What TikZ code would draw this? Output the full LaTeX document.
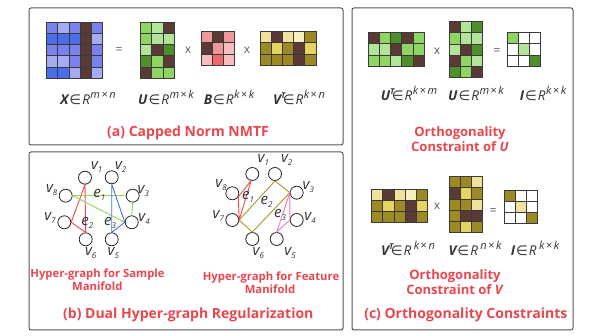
\documentclass[tikz,border=0pt]{standalone}
\usepackage{fontspec}
\setmainfont{Open Sans}
\newfontfamily\symf{DejaVu Sans}
\definecolor{br}{HTML}{5B3A36}
\definecolor{gridc}{HTML}{3A3A3A}
\definecolor{Ba}{HTML}{4A6EEA}
\definecolor{Bb}{HTML}{7A82EF}
\definecolor{Bc}{HTML}{A6ACF3}
\definecolor{Ga}{HTML}{4E8F2C}
\definecolor{Gb}{HTML}{8ED661}
\definecolor{Gc}{HTML}{B2E59A}
\definecolor{Pa}{HTML}{EC6A6E}
\definecolor{Pb}{HTML}{F0979A}
\definecolor{Pc}{HTML}{F6BCBE}
\definecolor{Ya}{HTML}{9E8A24}
\definecolor{Yb}{HTML}{E6D460}
\definecolor{Yc}{HTML}{F0E29A}
\definecolor{Yd}{HTML}{F6EFBE}
\definecolor{titred}{HTML}{E8474F}
\definecolor{panel}{HTML}{555555}
\definecolor{txt}{HTML}{333333}
\definecolor{eR}{HTML}{F0464A}
\definecolor{eG}{HTML}{8ED65A}
\definecolor{eB}{HTML}{4A6EEA}
\definecolor{eO}{HTML}{A89530}
\definecolor{eP}{HTML}{F07AC0}
\newcommand{\drawmat}[4]{%
  \foreach \cc [count=\i from 0] in {#4}{%
    \pgfmathtruncatemacro\rr{floor(\i/#3)}%
    \pgfmathtruncatemacro\qq{\i-\rr*#3}%
    \filldraw[fill=\cc, draw=gridc, line width=0.9] ({#1+\qq*11.2},{#2+\rr*11.2}) rectangle ++(11.2,11.2);
  }}
\newcommand{\inn}{\kern1pt{\symf\char"2208}\kern1pt}
\newcommand{\sups}[2]{\kern0.5pt\raisebox{6pt}{\fontsize{11}{11}\selectfont\itshape #1\kern1.5pt{\upshape×}\kern1.5pt#2}}
\newcommand{\mlab}[4]{{\bfseries\itshape #1}#2\inn{\itshape R}\sups{#3}{#4}}
\newcommand{\tsup}{\raisebox{6pt}{\fontsize{8}{8}\selectfont\bfseries\itshape T}\kern-3.5pt}
\newcommand{\vsub}[1]{\raisebox{-3pt}{\fontsize{8}{8}\selectfont #1}}
\begin{document}
\begin{tikzpicture}[x=1pt,y=-1pt,
  panelbox/.style={draw=panel, line width=1, rounded corners=2},
  vert/.style={circle, draw=black!85, line width=0.8, minimum size=13, inner sep=0},
  vlab/.style={font=\fontsize{15}{15}\selectfont\itshape, text=txt, inner sep=0},
  elab/.style={font=\fontsize{15}{15}\selectfont\itshape, text=txt, inner sep=0},
  op/.style={font=\fontsize{12}{12}\selectfont, text=txt!80, inner sep=0},
  mathlab/.style={font=\fontsize{13.5}{13.5}\selectfont, text=txt, inner sep=0, anchor=base},
  bigtitle/.style={font=\fontsize{14}{14}\selectfont\bfseries, text=titred, inner sep=0, anchor=base},
  midtitle/.style={font=\fontsize{13}{13}\selectfont\bfseries, text=titred, inner sep=0, anchor=base},
  smalltitle/.style={font=\fontsize{11.3}{11.3}\selectfont\bfseries, text=titred, inner sep=0, anchor=base},
  edge/.style={line width=0.9}]
\useasboundingbox (0,0) rectangle (606,336);
\fill[white] (0,0) rectangle (606,336);
% panels
\draw[panelbox] (29,8) rectangle (343,145);
\draw[panelbox] (29,152) rectangle (343,330);
\draw[panelbox] (352,8) rectangle (573,330);
% ---------- (a)
\drawmat{46.7}{22.3}{5}{Bb,Bc,Bb,br,Bb, Ba,Ba,Ba,br,Bc, Bb,Bb,Bb,br,Bb, Bc,Bc,Bb,br,Bb, Ba,Ba,Bc,br,Bc}
\drawmat{140.7}{22.3}{3}{Gb,Gc,br, Gb,Gc,Gc, Gc,br,Ga, Ga,Gb,br, br,Gb,Gb}
\drawmat{201}{31.7}{3}{Pb,br,Pb, br,Pb,Pc, Pc,Pa,Pc}
\drawmat{260}{31.7}{5}{Yc,br,Yc,Yd,Ya, Ya,Yb,Ya,br,Yb, Ya,Ya,Ya,br,Ya}
\node[op] (eqa) at (119,51) {=};
\node[op] (xa1) at (188,50) {x};
\node[op] (xa2) at (247,50) {x};
\node[mathlab] (lx) at (88,105) {\mlab{X}{}{m}{n}};
\node[mathlab] (lu) at (166,105) {\mlab{U}{}{m}{k}};
\node[mathlab] (lb) at (229,105) {\mlab{B}{}{k}{k}};
\node[mathlab] (lv) at (299,105) {\mlab{V}{\tsup}{k}{n}};
\node[bigtitle] (ta) at (188,136.7) {(a) Capped Norm NMTF};
% ---------- (b) left hypergraph
\node[vert] (a1) at (85,177.7) {};
\node[vert] (a2) at (111.7,177.3) {};
\node[vert] (a3) at (132.7,195.7) {};
\node[vert] (a4) at (131.7,222.3) {};
\node[vert] (a5) at (111.7,239.3) {};
\node[vert] (a6) at (85.7,239.3) {};
\node[vert] (a7) at (64.3,222.3) {};
\node[vert] (a8) at (65.7,195.7) {};
\node[vlab] (la1) at (96.7,166.7) {v\vsub{1}};
\node[vlab] (la2) at (120.7,166.7) {v\vsub{2}};
\node[vlab] (la3) at (143.3,191) {v\vsub{3}};
\node[vlab] (la4) at (144,219) {v\vsub{4}};
\node[vlab] (la5) at (113.3,253.3) {v\vsub{5}};
\node[vlab] (la6) at (90.7,253.3) {v\vsub{6}};
\node[vlab] (la7) at (50,217.7) {v\vsub{7}};
\node[vlab] (la8) at (51.7,190) {v\vsub{8}};
\draw[edge, eR] (a1.south) -- (a7.east) -- (a6.north) -- cycle;
\draw[edge, eG] (a8.east) -- (a3.west);
\draw[edge, eG] (a3.south) -- (a4.north);
\draw[edge, eG] (a8.east) -- (a4.west);
\draw[edge, eB] (a2.south) -- (a4.west) -- (a5.north) -- cycle;
\node[elab] (ea1) at (99.3,195) {e\vsub{1}};
\node[elab] (ea2) at (87.3,223.3) {e\vsub{2}};
\node[elab] (ea3) at (110,223.3) {e\vsub{3}};
% ---------- (b) right hypergraph
\node[vert] (b1) at (252.3,174) {};
\node[vert] (b2) at (275,174) {};
\node[vert] (b3) at (296.7,192.7) {};
\node[vert] (b4) at (296.7,220) {};
\node[vert] (b5) at (276.7,239) {};
\node[vert] (b6) at (252.3,239) {};
\node[vert] (b7) at (232.3,220) {};
\node[vert] (b8) at (232.3,193.3) {};
\node[vlab] (lb1) at (263.3,160) {v\vsub{1}};
\node[vlab] (lb2) at (286.7,160) {v\vsub{2}};
\node[vlab] (lb3) at (308.3,186.7) {v\vsub{3}};
\node[vlab] (lb4) at (310,218.3) {v\vsub{4}};
\node[vlab] (lb5) at (290,253.3) {v\vsub{5}};
\node[vlab] (lb6) at (258.3,253.3) {v\vsub{6}};
\node[vlab] (lb7) at (218.3,215.7) {v\vsub{7}};
\node[vlab] (lb8) at (221,185) {v\vsub{8}};
\draw[edge, eR] (b7.east) -- (b8.-30) -- (b1.-100) -- cycle;
\draw[edge, eO] (b7.east) -- (b2.south) -- (b3.west) -- (b6.north) -- cycle;
\draw[edge, eP] (b3.west) -- (b4.west) -- (b5.north) -- cycle;
\node[elab] (eb1) at (248,197) {e\vsub{1}};
\node[elab] (eb2) at (266.5,202) {e\vsub{2}};
\node[elab] (eb3) at (280,215) {e\vsub{3}};
\node[smalltitle] (s1) at (97.5,277.7) {Hyper-graph for Sample};
\node[smalltitle] (s2) at (97.3,290.7) {Manifold};
\node[smalltitle] (s3) at (271,281) {Hyper-graph for Feature};
\node[smalltitle] (s4) at (270,293.3) {Manifold};
\node[bigtitle] (tb) at (188.3,318.3) {(b) Dual Hyper-graph Regularization};
% ---------- (c) top
\drawmat{368.3}{32.7}{5}{br,Gb,Ga,br,Gb, Gc,Gc,br,Gb,Gb, Gb,Gb,Gc,Ga,br}
\drawmat{449}{21.7}{3}{br,Gc,Ga, Gb,Gc,Gc, Gc,br,Ga, br,Gb,Gc, Ga,Gb,br}
\drawmat{507.3}{32.7}{3}{Gb,white,white, white,Gc,white, white,white,Ga}
\node[op] (xc1) at (437,51.7) {x};
\node[op] (eqc1) at (497,51.7) {=};
\node[mathlab] (lut) at (409,100.7) {\mlab{U}{\tsup}{k}{m}};
\node[mathlab] (luu) at (476,100.7) {\mlab{U}{}{m}{k}};
\node[mathlab] (lii) at (543,100.7) {\mlab{I}{}{k}{k}};
\node[midtitle] (o1) at (460,136.7) {Orthogonality};
\node[midtitle] (o2) at (460,151.7) {Constraint of \textit{U}};
% ---------- (c) bottom
\drawmat{371.7}{189.3}{5}{Yc,br,Yc,Yd,Ya, Ya,Yb,Ya,br,Yb, Ya,Ya,Ya,br,Ya}
\drawmat{449.3}{176.7}{3}{Ya,Ya,Yc, br,Yb,Ya, Ya,Ya,Yc, Ya,br,br, Ya,Yb,Ya}
\drawmat{504}{190}{3}{Ya,white,white, white,Yc,white, white,white,Ya}
\node[op] (xc2) at (437,206.7) {x};
\node[op] (eqc2) at (493,211.7) {=};
\node[mathlab] (lvt) at (408,256) {\mlab{V}{\tsup}{\kern2pt k}{n}};
\node[mathlab] (lvv) at (475,256) {\mlab{V}{}{\kern2pt n}{k}};
\node[mathlab] (li2) at (535,256) {\mlab{I}{}{\kern2pt k}{k}};
\node[midtitle] (o3) at (455,280) {Orthogonality};
\node[midtitle] (o4) at (455,295) {Constraint of \textit{V}};
\node[bigtitle] (tc) at (465.8,318.3) {(c) Orthogonality Constraints};
\end{tikzpicture}
\end{document}
